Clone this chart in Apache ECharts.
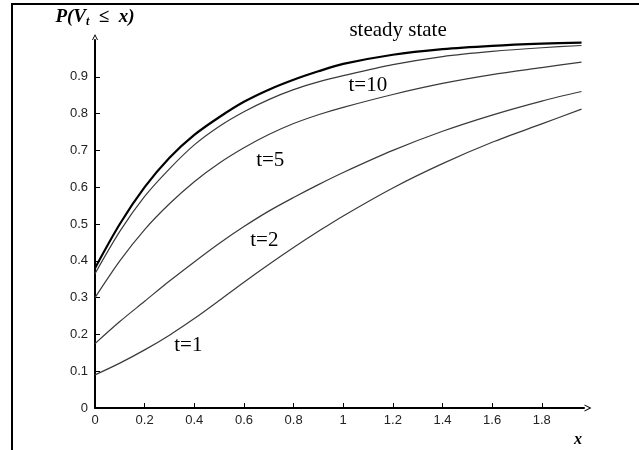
<!DOCTYPE html>
<html>
<head>
<meta charset="utf-8">
<script src="https://cdn.jsdelivr.net/npm/echarts@6/dist/echarts.min.js"></script>
<style>
  html, body { margin: 0; padding: 0; background: #fff; }
  #chart { width: 639px; height: 450px; }
</style>
</head>
<body>
<div id="chart"></div>
<script>
// Grid of x values shared by all distribution curves
const xValues = [0, 0.1, 0.2, 0.3, 0.4, 0.5, 0.6, 0.7, 0.8, 0.9, 1.0, 1.2, 1.4, 1.6, 1.8, 1.96];

// P(V_t <= x) for each time horizon
const cdfT1     = [0.09, 0.122, 0.158, 0.198, 0.243, 0.292, 0.342, 0.39, 0.436, 0.48, 0.522, 0.598, 0.664, 0.722, 0.772, 0.812];
const cdfT2     = [0.175, 0.235, 0.29, 0.345, 0.397, 0.447, 0.493, 0.535, 0.572, 0.607, 0.64, 0.70, 0.752, 0.796, 0.834, 0.86];
const cdfT5     = [0.30, 0.40, 0.485, 0.555, 0.615, 0.665, 0.707, 0.743, 0.773, 0.797, 0.817, 0.852, 0.882, 0.906, 0.925, 0.94];
const cdfT10    = [0.365, 0.48, 0.575, 0.65, 0.715, 0.765, 0.805, 0.838, 0.865, 0.886, 0.903, 0.933, 0.955, 0.969, 0.979, 0.985];
const cdfSteady = [0.38, 0.50, 0.60, 0.68, 0.742, 0.79, 0.832, 0.865, 0.892, 0.915, 0.935, 0.96, 0.975, 0.984, 0.99, 0.993];

// Curve annotations (text and anchor in data units)
const curveLabels = ['t=1', 't=2', 't=5', 't=10', 'steady state'];
const labelX = [0.376, 0.682, 0.706, 1.099, 1.221];
const labelY = [0.170, 0.455, 0.673, 0.877, 1.0];
const labelLift = [0, 0, 0, 0, -10];

// Axis ranges and tick steps
const xMin = 0, xMax = 1.97, xStep = 0.2;
const yMin = 0, yMax = 1.0, yStep = 0.1;

const pairs = ys => xValues.map((x, i) => [x, ys[i]]);

const chevron = 'path://M0,10 L5,0 L10,10 L8.4,10 L5,3.2 L1.6,10 Z';
const serif = '"Liberation Serif", "DejaVu Serif", serif';
const sans = '"Liberation Sans", Arial, sans-serif';

function curve(name, ys, idx, color, width) {
  return {
    name: name,
    type: 'line',
    data: pairs(ys),
    smooth: 0.3,
    showSymbol: false,
    symbol: 'none',
    clip: false,
    lineStyle: { color: color, width: width },
    markPoint: {
      symbol: 'circle',
      symbolSize: 0,
      silent: true,
      label: {
        show: true,
        position: 'inside',
        offset: [0, labelLift[idx]],
        formatter: curveLabels[idx],
        color: '#000',
        fontFamily: serif,
        fontSize: 21
      },
      data: [{ coord: [labelX[idx], labelY[idx]] }]
    }
  };
}

const chart = echarts.init(document.getElementById('chart'), null, { renderer: 'canvas' });

chart.setOption({
  animation: false,
  backgroundColor: '#fff',
  grid: { left: 95, right: 55, top: 40, bottom: 42, containLabel: false, outerBoundsMode: 'none' },
  xAxis: {
    type: 'value',
    min: xMin, max: xMax, interval: xStep,
    name: 'x',
    nameLocation: 'end',
    nameGap: -10,
    nameTextStyle: {
      fontFamily: serif,
      fontStyle: 'italic', fontWeight: 'bold', fontSize: 16, color: '#000',
      verticalAlign: 'top', padding: [24, 0, 0, 0]
    },
    axisLine: {
      show: true, onZero: false,
      lineStyle: { color: '#000', width: 2 },
      symbol: ['none', chevron],
      symbolSize: [14, 7],
      symbolOffset: [0, 4]
    },
    axisTick: { show: true, inside: true, length: 5, lineStyle: { color: '#000', width: 1 } },
    axisLabel: {
      showMaxLabel: false, margin: 6,
      color: '#222', fontFamily: sans, fontSize: 13
    },
    splitLine: { show: false }
  },
  yAxis: {
    type: 'value',
    min: yMin, max: yMax, interval: yStep,
    name: '{p|P(V}{s|t}{p|  ≤  x)}',
    nameLocation: 'end',
    nameGap: 12,
    nameTextStyle: {
      rich: {
        p: { fontFamily: serif, fontStyle: 'italic', fontWeight: 'bold', fontSize: 19, color: '#000' },
        s: { fontFamily: serif, fontStyle: 'italic', fontWeight: 'bold', fontSize: 12, color: '#000', verticalAlign: 'bottom', padding: [9, 0, 0, 0] }
      }
    },
    axisLine: {
      show: true, onZero: false,
      lineStyle: { color: '#000', width: 2 },
      symbol: ['none', chevron],
      symbolSize: [10, 6],
      symbolOffset: [0, 3]
    },
    axisTick: { show: true, inside: true, length: 5, lineStyle: { color: '#000', width: 1 } },
    axisLabel: {
      showMaxLabel: false, margin: 7,
      color: '#222', fontFamily: sans, fontSize: 13
    },
    splitLine: { show: false }
  },
  graphic: [
    { type: 'line', shape: { x1: 12, y1: 4, x2: 12, y2: 450 }, style: { stroke: '#000', lineWidth: 2 } },
    { type: 'line', shape: { x1: 11, y1: 4, x2: 639, y2: 4 }, style: { stroke: '#000', lineWidth: 2 } }
  ],
  series: [
    curve('t=1', cdfT1, 0, '#3a3a3a', 1.2),
    curve('t=2', cdfT2, 1, '#3a3a3a', 1.2),
    curve('t=5', cdfT5, 2, '#3a3a3a', 1.2),
    curve('t=10', cdfT10, 3, '#3a3a3a', 1.2),
    curve('steady state', cdfSteady, 4, '#000', 2.2)
  ]
});
</script>
</body>
</html>
